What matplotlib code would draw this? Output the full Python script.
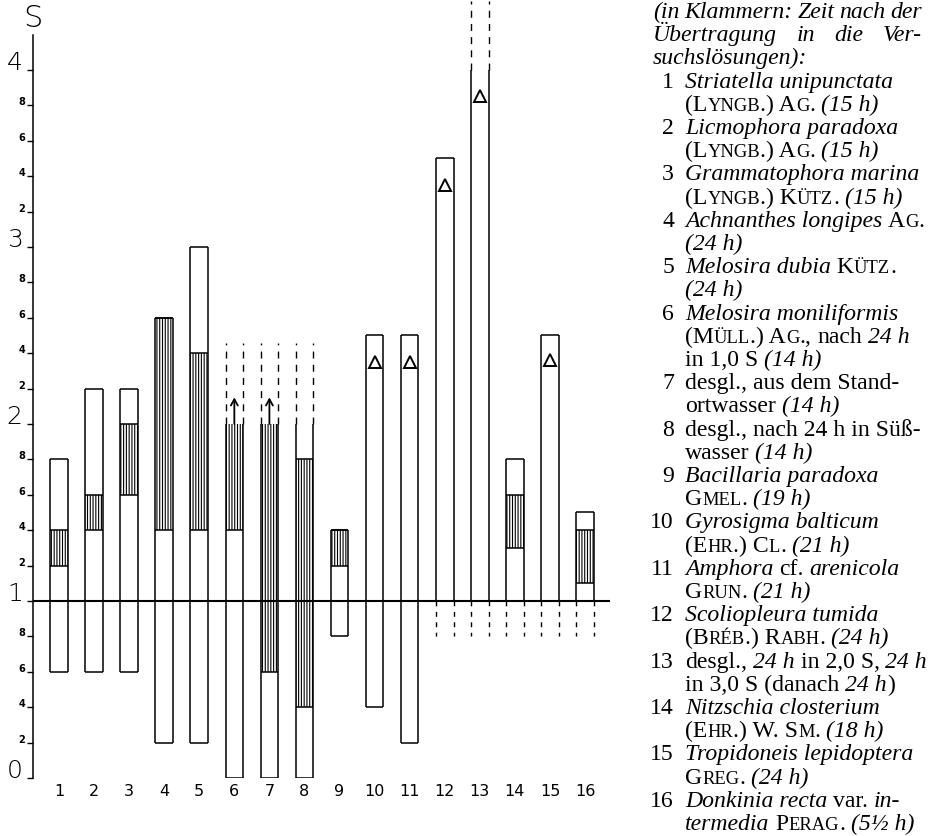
import matplotlib
matplotlib.use('Agg')
import matplotlib.pyplot as plt
from matplotlib.patches import Rectangle

W, H = 930, 836
plt.rcParams['hatch.linewidth'] = 0.8
plt.rcParams['lines.scale_dashes'] = False

# ---------------- data ----------------
bar_ids = list(range(1, 17))
bar_labels = [str(i) for i in bar_ids]
bar_low = [0.6, 0.6, 0.6, 0.2, 0.2, 0.0, 0.0, 0.0, 0.8, 0.4, 0.2, 1.0, 1.0, 1.0, 1.0, 1.0]
bar_high = [1.8, 2.2, 2.2, 2.6, 3.0, 2.0, 2.0, 2.0, 1.4, 2.5, 2.5, 3.5, 4.0, 1.8, 2.5, 1.5]
hatch_low = [1.2, 1.4, 1.6, 1.4, 1.4, 1.4, 0.6, 0.4, 1.2, None, None, None, None, 1.3, None, 1.1]
hatch_high = [1.4, 1.6, 2.0, 2.6, 2.4, 2.0, 2.0, 1.8, 1.4, None, None, None, None, 1.6, None, 1.4]
open_top_bars = [6, 7, 8, 13]
open_bottom_bars = [12, 13, 14, 15, 16]
dash_top_bars = [6, 7, 8, 13]
dash_top_vals = [2.46, 2.46, 2.46, 4.39]
dash_bottom_bars = [12, 13, 14, 15, 16]
dash_bottom_val = 0.8
arrow_bars = [6, 7]
arrow_tip = 2.15
tri_bars = [10, 11, 12, 13, 15]
tri_vals = [2.35, 2.35, 3.35, 3.85, 2.36]
ref_level = 1.0

major_ticks = [0, 1, 2, 3, 4]
major_labels = ['0', '1', '2', '3', '4']
minor_ticks = [round(0.2 * k, 1) for k in range(1, 20) if k % 5 != 0]
minor_labels = [str(int(round((v % 1) * 10))) for v in minor_ticks]
axis_label = 'S'

header_lines = ['(in Klammern: Zeit nach der', 'Übertragung in die Ver-', 'suchslösungen):']
entries = [
    [[('i', 'Striatella unipunctata')], [('s', '(Lyngb.) Ag.'), ('i', '(15 h)')]],
    [[('i', 'Licmophora paradoxa')], [('s', '(Lyngb.) Ag.'), ('i', '(15 h)')]],
    [[('i', 'Grammatophora marina')], [('s', '(Lyngb.) Kütz.'), ('i', '(15 h)')]],
    [[('i', 'Achnanthes longipes'), ('s', 'Ag.')], [('i', '(24 h)')]],
    [[('i', 'Melosira dubia'), ('s', 'Kütz.')], [('i', '(24 h)')]],
    [[('i', 'Melosira moniliformis')], [('s', '(Müll.) Ag.,'), ('r', 'nach'), ('i', '24 h')],
     [('r', 'in 1,0 S'), ('i', '(14 h)')]],
    [[('r', 'desgl., aus dem Stand-')], [('r', 'ortwasser'), ('i', '(14 h)')]],
    [[('r', 'desgl., nach 24 h in Süß-')], [('r', 'wasser'), ('i', '(14 h)')]],
    [[('i', 'Bacillaria paradoxa')], [('s', 'Gmel.'), ('i', '(19 h)')]],
    [[('i', 'Gyrosigma balticum')], [('s', '(Ehr.) Cl.'), ('i', '(21 h)')]],
    [[('i', 'Amphora'), ('r', 'cf.'), ('i', 'arenicola')], [('s', 'Grun.'), ('i', '(21 h)')]],
    [[('i', 'Scoliopleura tumida')], [('s', '(Bréb.) Rabh.'), ('i', '(24 h)')]],
    [[('r', 'desgl.,'), ('i', '24 h'), ('r', 'in 2,0 S,'), ('i', '24 h')],
     [('r', 'in 3,0 S (danach'), ('i', '24 h'), ('r', ')', False)]],
    [[('i', 'Nitzschia closterium')], [('s', '(Ehr.) W. Sm.'), ('i', '(18 h)')]],
    [[('i', 'Tropidoneis lepidoptera')], [('s', 'Greg.'), ('i', '(24 h)')]],
    [[('i', 'Donkinia recta'), ('r', 'var.'), ('i', 'in-')],
     [('i', 'termedia'), ('s', 'Perag.'), ('i', '(5½ h)')]],
]

# ---------------- figure ----------------
fig = plt.figure(figsize=(W / 100, H / 100), dpi=100)
fig.patch.set_facecolor('white')
ax = fig.add_axes([0, 58 / H, 620 / W, 778 / H])
ax.set_xlim(-0.682, 16.997)
ax.set_ylim(0, 4.395)
ax.set_facecolor('none')

bw = 0.5
lw = 1.1
for i, b in enumerate(bar_ids):
    lo, hi = bar_low[i], bar_high[i]
    hl, hh = hatch_low[i], hatch_high[i]
    if hl is not None:
        ax.add_patch(Rectangle((b - bw / 2, hl), bw, hh - hl, fill=False,
                               hatch='||||||', edgecolor='black', linewidth=0))
        for v in (hl, hh):
            if not (v == hi and b in open_top_bars):
                ax.hlines(v, b - bw / 2, b + bw / 2, color='black', lw=lw)
    ax.vlines([b - bw / 2, b + bw / 2], lo, hi, color='black', lw=lw)
    if b not in open_top_bars:
        ax.hlines(hi, b - bw / 2, b + bw / 2, color='black', lw=lw)
    if b not in open_bottom_bars:
        ax.hlines(lo, b - bw / 2, b + bw / 2, color='black', lw=lw)

for b, top in zip(dash_top_bars, dash_top_vals):
    start = bar_high[b - 1]
    for xe in (b - bw / 2, b + bw / 2):
        ax.plot([xe, xe], [start, top], color='black', lw=1.0,
                dashes=(5, 4.5), clip_on=False)

for b in dash_bottom_bars:
    for xe in (b - bw / 2, b + bw / 2):
        ax.plot([xe, xe], [ref_level, dash_bottom_val], color='black', lw=1.0,
                dashes=(3.5, 4), clip_on=False)

for b in arrow_bars:
    ax.annotate('', xy=(b, arrow_tip), xytext=(b, bar_high[b - 1]),
                arrowprops=dict(arrowstyle='->,head_length=0.45,head_width=0.25',
                                lw=1.3, color='black', shrinkA=0, shrinkB=0))

ax.plot(tri_bars, tri_vals, linestyle='none', marker='^', markersize=8.5,
        markerfacecolor='white', markeredgecolor='black', markeredgewidth=1.4)

ax.hlines(ref_level, 0.259, 16.71, color='black', lw=1.5)

# axes / ticks
for s in ('top', 'right', 'bottom'):
    ax.spines[s].set_visible(False)
ax.spines['left'].set_position(('data', 0.259))
ax.spines['left'].set_bounds(0, 4.2)
ax.spines['left'].set_linewidth(1.1)

ax.set_xticks(bar_ids)
ax.set_xticklabels(bar_labels, fontsize=11.5, family='DejaVu Sans')
ax.tick_params(axis='x', length=0, pad=4)

ax.set_yticks(major_ticks)
ax.set_yticklabels(major_labels, fontsize=18, family='DejaVu Sans', fontweight='light')
ax.set_yticks(minor_ticks, minor=True)
ax.set_yticklabels(minor_labels, minor=True, fontsize=7, fontweight='bold', family='DejaVu Sans')
ax.tick_params(axis='y', which='major', direction='out', length=4.5, width=1.0, pad=3)
ax.tick_params(axis='y', which='minor', direction='out', length=4, width=1.0, pad=1.5)
for t in ax.get_yticklabels(which='both'):
    t.set_verticalalignment('baseline')

ax.text(0.259, 4.29, axis_label, fontsize=22, ha='center', va='center',
        family='DejaVu Sans', fontweight='light')

# ---------------- legend text ----------------
tax = fig.add_axes([0, 0, 1, 1])
tax.axis('off')
renderer = fig.canvas.get_renderer()
SERIF = 'Liberation Serif'


def props(style, size):
    return dict(family=SERIF, style='italic' if style == 'i' else 'normal', size=size)


def text_width(txt, style, size):
    t = fig.text(0, 0, txt, **props(style, size))
    w = t.get_window_extent(renderer).width
    t.remove()
    return w


FS = 15 * 209 / text_width('Striatella unipunctata', 'i', 15)
GAP = FS * 100 / 72 * 0.25
SC = 0.78


def runs_for(style, text):
    if style != 's':
        return [[text, FS, style]]
    runs = []
    for ch in text:
        small = ch.islower()
        c = ch.upper() if small else ch
        size = FS * SC if small else FS
        if runs and runs[-1][1] == size:
            runs[-1][0] += c
        else:
            runs.append([c, size, 'r'])
    return runs


def draw_line(segments, x0, y_img):
    yb = H - y_img
    prev = None
    for seg in segments:
        style, txt = seg[0], seg[1]
        gap = seg[2] if len(seg) > 2 else True
        for j, (rt, size, st) in enumerate(runs_for(style, txt)):
            if prev is None:
                t = tax.text(x0 / W, yb / H, rt, ha='left', va='baseline',
                             transform=tax.transAxes, **props(st, size))
            else:
                off = GAP if (j == 0 and gap) else 0
                t = tax.annotate(rt, xy=(1, yb), xycoords=(prev, 'figure pixels'),
                                 xytext=(off, 0), textcoords='offset pixels',
                                 ha='left', va='baseline', **props(st, size))
            prev = t


def draw_justified(text, x0, x1, y_img, style='i'):
    words = text.split()
    widths = [text_width(w, style, FS) for w in words]
    gap = (x1 - x0 - sum(widths)) / (len(words) - 1)
    x = x0
    for w, wd in zip(words, widths):
        tax.text(x / W, (H - y_img) / H, w, ha='left', va='baseline',
                 transform=tax.transAxes, **props(style, FS))
        x += wd + gap


LINE0 = 18
LSP = 23.2
draw_justified(header_lines[0], 653, 922, LINE0)
draw_justified(header_lines[1], 653, 922, LINE0 + LSP)
draw_line([('i', header_lines[2])], 653, LINE0 + 2 * LSP)

k = 3
for n, lines in enumerate(entries, start=1):
    y = LINE0 + k * LSP
    tax.text(674 / W, (H - y) / H, str(n), ha='right', va='baseline',
             transform=tax.transAxes, **props('r', FS))
    for ln in lines:
        draw_line(ln, 685, LINE0 + k * LSP)
        k += 1

fig.savefig('out.png', dpi=100, facecolor='white')
